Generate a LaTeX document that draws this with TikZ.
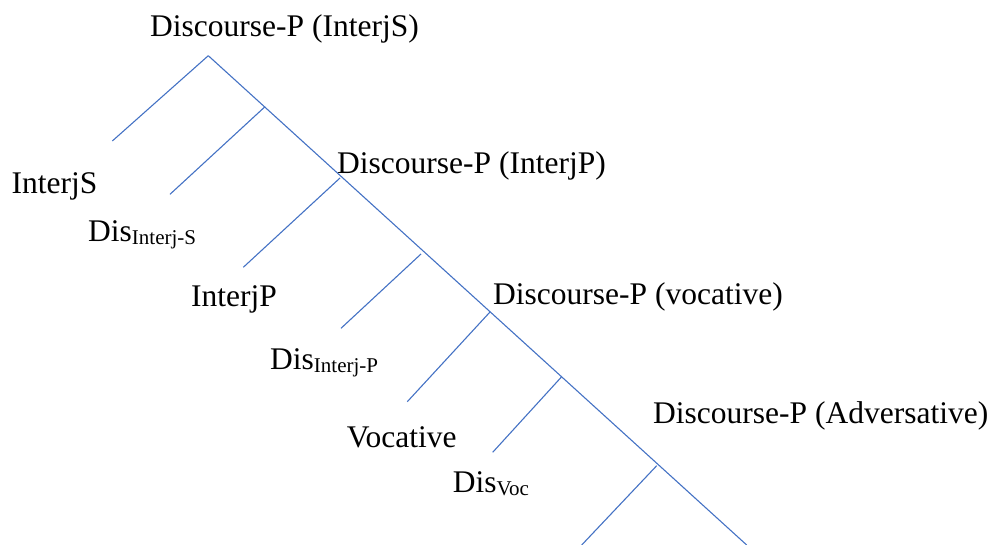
\documentclass[tikz,border=0pt]{standalone}
\usepackage{fontspec}
\setmainfont{Liberation Serif}
\definecolor{treeblue}{HTML}{4472C4}
\newcommand{\labsize}{\fontsize{31.5}{36}\selectfont}
\newcommand{\subtxt}[1]{\raisebox{-3pt}{\fontsize{21}{24}\selectfont #1}}
\begin{document}
\begin{tikzpicture}[x=1pt,y=-1pt,
  branch/.style={draw=treeblue, line width=1.1pt},
  lab/.style={anchor=base west, inner sep=0pt, font=\labsize}]
\useasboundingbox (0,0) rectangle (993,545);
% spine of the tree
\coordinate (top) at (208.3,55.7);
\coordinate (bot) at (746.7,545);
% junctions and left branch ends
\coordinate (j2) at (265,106.7);  \coordinate (e1) at (112.3,141);
\coordinate (j3) at (340,178);    \coordinate (e2) at (170,194.3);
\coordinate (j4) at (421,254);    \coordinate (e3) at (243.3,267.3);
\coordinate (j5) at (490,312);    \coordinate (e4) at (341,328.3);
\coordinate (j6) at (561.7,376.7);\coordinate (e5) at (407.3,401.7);
\coordinate (j7) at (656.7,465.7);\coordinate (e6) at (492.7,452.3);
\coordinate (e7) at (581.7,545);
\draw[branch] (top) -- (bot);
\draw[branch] (top) -- (e1);
\draw[branch] (j2) -- (e2);
\draw[branch] (j3) -- (e3);
\draw[branch] (j4) -- (e4);
\draw[branch] (j5) -- (e5);
\draw[branch] (j6) -- (e6);
\draw[branch] (j7) -- (e7);
% labels
\node[lab] (dp1) at (150,37) {Discourse-P (InterjS)};
\node[lab] (ijs) at (11.5,193.3) {InterjS};
\node[lab] (dis1) at (88,241.7) {Dis\subtxt{Interj-S}};
\node[lab] (dp2) at (337,174) {Discourse-P (InterjP)};
\node[lab] (ijp) at (191,307) {InterjP};
\node[lab] (dis2) at (270,369) {Dis\subtxt{Interj-P}};
\node[lab] (dp3) at (493,305) {Discourse-P (vocative)};
\node[lab] (voc) at (346.7,447) {Vocative};
\node[lab] (dis3) at (452.7,492) {Dis\subtxt{Voc}};
\node[lab] (dp4) at (653,423.3) {Discourse-P (Adversative)};
\end{tikzpicture}
\end{document}
